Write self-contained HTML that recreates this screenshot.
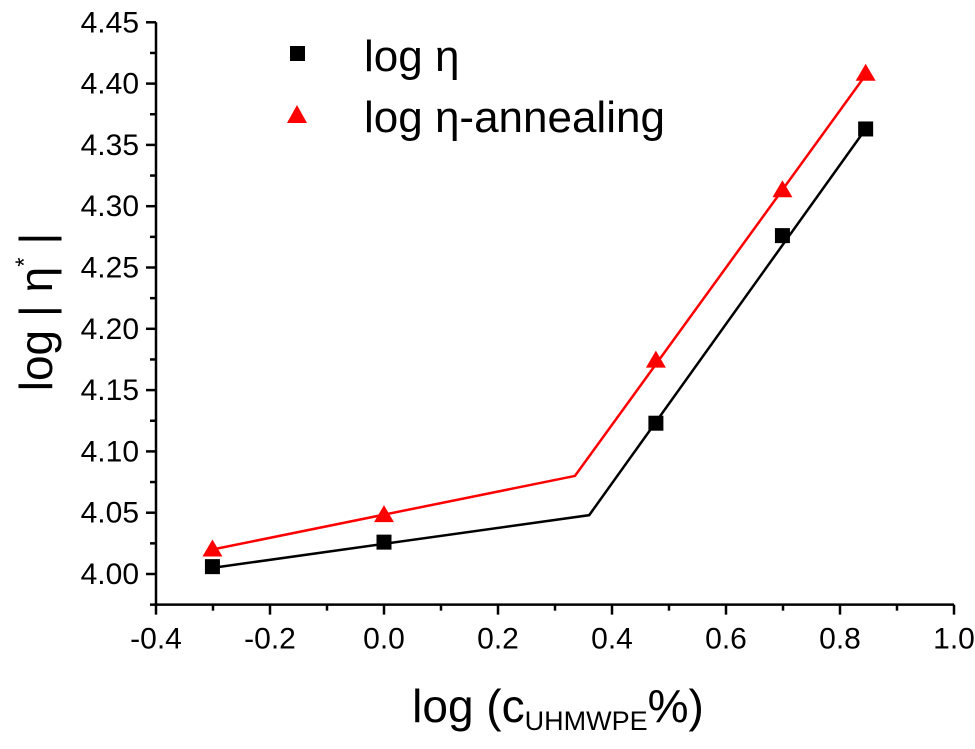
<!DOCTYPE html>
<html><head><meta charset="utf-8"><style>
body{margin:0;background:#fff}
svg text{font-family:"Liberation Sans",Arial,sans-serif}
</style></head><body>
<svg id="c" width="975" height="744" xmlns="http://www.w3.org/2000/svg"></svg>
<script>
const xTicks=[-0.4,-0.2,0.0,0.2,0.4,0.6,0.8,1.0];
const xTickLabels=["-0.4","-0.2","0.0","0.2","0.4","0.6","0.8","1.0"];
const yTicks=[4.00,4.05,4.10,4.15,4.20,4.25,4.30,4.35,4.40,4.45];
const yTickLabels=["4.00","4.05","4.10","4.15","4.20","4.25","4.30","4.35","4.40","4.45"];
const xVals=[-0.301,0,0.477,0.699,0.845];
const etaVals=[4.006,4.026,4.123,4.276,4.363];
const annVals=[4.020,4.048,4.174,4.313,4.408];
const etaFitX=[-0.301,0.36,0.845];
const etaFitY=[4.005,4.048,4.363];
const annFitX=[-0.301,0.335,0.845];
const annFitY=[4.020,4.080,4.407];
const X=v=>156+(v+0.4)*570;
const Y=v=>574-(v-4.0)*1226;
const svg=document.getElementById('c');
const NS='http://www.w3.org/2000/svg';
function el(t,a,txt){const e=document.createElementNS(NS,t);for(const k in a)e.setAttribute(k,a[k]);if(txt!==undefined)e.textContent=txt;svg.appendChild(e);return e;}
const y0=Y(3.975), x0=X(-0.4);
let e=el('line',{x1:x0,y1:y0,x2:X(1.0),y2:y0,stroke:'#000','stroke-width':2.5});

e=el('line',{x1:x0,y1:Y(4.45),x2:x0,y2:y0,stroke:'#000','stroke-width':2.5});

xTicks.forEach((v,i)=>{
 el('line',{x1:X(v),y1:y0,x2:X(v),y2:y0+10,stroke:'#000','stroke-width':2.5});
 if(i<xTicks.length-1) el('line',{x1:X(v+0.1),y1:y0,x2:X(v+0.1),y2:y0+6,stroke:'#000','stroke-width':2.5});
 const t=el('text',{x:X(v),y:y0+44,'font-size':30,'text-anchor':'middle'},xTickLabels[i]);
 
});
yTicks.forEach((v,i)=>{
 el('line',{x1:x0,y1:Y(v),x2:x0-10,y2:Y(v),stroke:'#000','stroke-width':2.5});
 el('line',{x1:x0,y1:Y(v-0.025),x2:x0-6,y2:Y(v-0.025),stroke:'#000','stroke-width':2.5});
 const t=el('text',{x:x0-17,y:Y(v)+10,'font-size':30,'text-anchor':'end'},yTickLabels[i]);
 
});
function poly(xs,ys,c,n){const p=el('polyline',{points:xs.map((x,i)=>X(x)+','+Y(ys[i])).join(' '),fill:'none',stroke:c,'stroke-width':2.5});
 }
poly(etaFitX,etaFitY,'#000','fit-line-eta');
poly(annFitX,annFitY,'#f00','fit-line-annealing');
xVals.forEach((x,i)=>{
 const r=el('rect',{x:X(x)-7.5,y:Y(etaVals[i])-7.5,width:15,height:15,fill:'#000'});
 
 const cx=X(x),cy=Y(annVals[i]);
 const t=el('polygon',{points:`${cx},${cy-10} ${cx-10},${cy+7} ${cx+10},${cy+7}`,fill:'#f00'});
 
});
</script>
<svg style="position:absolute;left:0;top:0" width="975" height="744" xmlns="http://www.w3.org/2000/svg">
<g>
<rect x="290" y="46" width="15" height="15" fill="#000"/>
<text x="364" y="71" font-size="44">log η</text>
<polygon points="297,105 287,123 307,123" fill="#f00"/>
<text x="364" y="132" font-size="44">log η-annealing</text>
</g>
<text transform="translate(52,312) rotate(-90)" font-size="46" text-anchor="middle">log | η<tspan font-size="24" dy="-20">*</tspan><tspan dy="20"> |</tspan></text>
<text x="558" y="722" font-size="46" text-anchor="middle">log (c<tspan font-size="27" dy="8">UHMWPE</tspan><tspan dy="-8">%)</tspan></text>
</svg>
</body></html>
